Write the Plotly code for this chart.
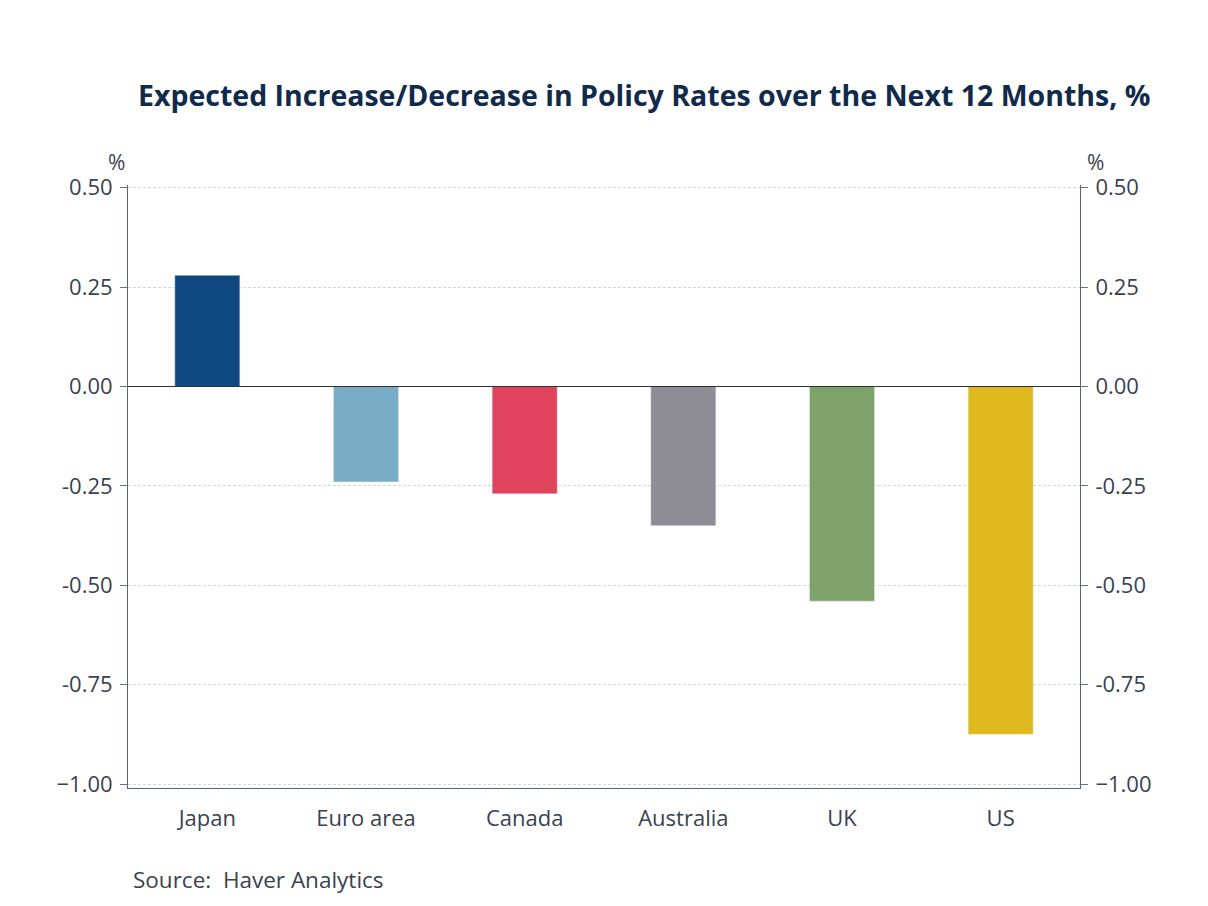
import plotly.graph_objects as go

categories = ["Japan", "Euro area", "Canada", "Australia", "UK", "US"]
values = [0.28, -0.24, -0.27, -0.35, -0.54, -0.875]
colors = ["#0f4880", "#78adc5", "#e0435c", "#8e8c94", "#7ea36a", "#dfb91e"]
tick_vals = [0.5, 0.25, 0.0, -0.25, -0.5, -0.75, -1.0]
tick_text = ["0.50", "0.25", "0.00", "-0.25", "-0.50", "-0.75", "\u22121.00"]

FONT = "Open Sans"
TXT = "#3a4250"

# page body has an 8px margin, so work in shifted coordinates
W, H = 1192, 890
L, R, T, B = 120, 120, 177, 110
PW = W - L - R
PH = H - T - B


def px(x):
    return (x - 8 - L) / PW


def py(y):
    return 1 - (y - 8 - T) / PH


fig = go.Figure()
fig.add_trace(go.Bar(x=categories, y=values, marker_color=colors, width=0.41,
                     showlegend=False))
fig.add_trace(go.Scatter(x=categories, y=values, yaxis="y2", mode="markers",
                         marker=dict(opacity=0), showlegend=False, hoverinfo="skip"))

yrange = [-1.01, 0.507]
axis_common = dict(range=yrange, tickvals=tick_vals, ticktext=tick_text,
                   ticks="outside", ticklen=7, tickcolor="#6b7280",
                   showline=True, linecolor="#5a6472", linewidth=1,
                   tickfont=dict(family=FONT, size=22, color=TXT),
                   ticklabelstandoff=3, zeroline=False)

fig.update_layout(
    width=W, height=H,
    paper_bgcolor="white", plot_bgcolor="white",
    margin=dict(l=L, r=R, t=T, b=B),
    font=dict(family=FONT, color=TXT),
    xaxis=dict(showline=True, linecolor="#5a6472", linewidth=1,
               tickfont=dict(family=FONT, size=22, color=TXT),
               ticks="", showgrid=False, ticklabelstandoff=11),
    yaxis=dict(**axis_common, showgrid=True, gridcolor="#d3d6da",
               griddash="3px,2px", gridwidth=1),
    yaxis2=dict(**axis_common, overlaying="y", side="right", showgrid=False,
                matches="y"),
)

fig.add_hline(y=0, line_color="#2b2f36", line_width=1)

fig.add_annotation(text="<b>Expected Increase/Decrease in Policy Rates over the Next 12 Months, %</b>",
                   xref="paper", yref="paper", x=px(644), y=py(95),
                   xanchor="center", yanchor="middle", showarrow=False,
                   font=dict(family=FONT, size=28.5, color="#0f2a4a"))
fig.add_annotation(text="%", xref="paper", yref="paper", x=px(116), y=py(162),
                   xanchor="center", yanchor="middle", showarrow=False,
                   font=dict(family=FONT, size=21, color=TXT))
fig.add_annotation(text="%", xref="paper", yref="paper", x=px(1095), y=py(162),
                   xanchor="center", yanchor="middle", showarrow=False,
                   font=dict(family=FONT, size=21, color=TXT))
fig.add_annotation(text="Source:  Haver Analytics", xref="paper", yref="paper",
                   x=px(131), y=py(879), xanchor="left",
                   yanchor="middle", showarrow=False,
                   font=dict(family=FONT, size=22.5, color=TXT))

fig.write_html("out.html")
